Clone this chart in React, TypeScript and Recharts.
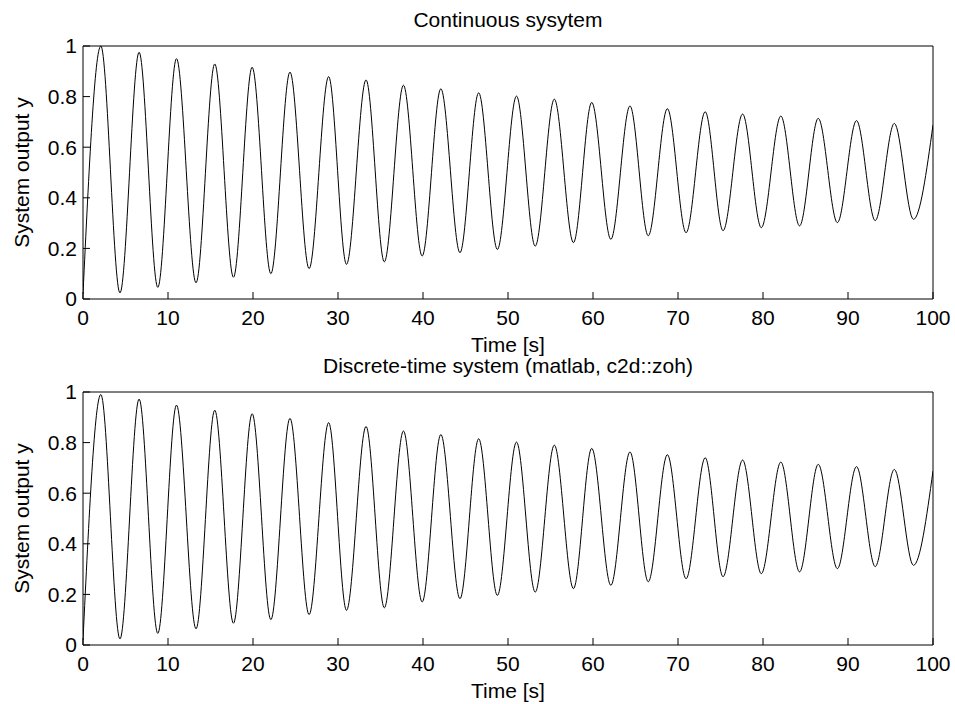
import React from 'react';
import { LineChart, Line, XAxis, YAxis } from 'recharts';

// peaks / troughs (time in s)
const timeS = [0, 2.1, 4.35, 6.6, 8.8, 11.0, 13.3, 15.5, 17.7, 19.9, 22.1, 24.35, 26.6, 28.9, 31.0, 33.3, 35.45, 37.7, 39.9, 42.1, 44.35, 46.55, 48.75, 51.0, 53.2, 55.45, 57.7, 59.85, 62.1, 64.35, 66.5, 68.75, 70.95, 73.2, 75.3, 77.6, 79.8, 82.1, 84.3, 86.5, 88.75, 91.0, 93.2, 95.45, 97.7, 100];
const continuousY = [0.02, 1.0, 0.024, 0.975, 0.046, 0.95, 0.064, 0.929, 0.086, 0.916, 0.1, 0.897, 0.12, 0.879, 0.137, 0.866, 0.147, 0.845, 0.17, 0.831, 0.183, 0.815, 0.196, 0.802, 0.209, 0.79, 0.223, 0.777, 0.236, 0.763, 0.25, 0.752, 0.262, 0.74, 0.27, 0.731, 0.282, 0.723, 0.289, 0.714, 0.302, 0.705, 0.31, 0.694, 0.315, 0.688];
const discreteY = [0.02, 0.99, 0.024, 0.972, 0.046, 0.948, 0.064, 0.928, 0.086, 0.914, 0.1, 0.896, 0.12, 0.879, 0.137, 0.864, 0.147, 0.846, 0.17, 0.832, 0.183, 0.815, 0.196, 0.802, 0.209, 0.79, 0.223, 0.777, 0.236, 0.763, 0.25, 0.752, 0.262, 0.74, 0.27, 0.731, 0.282, 0.723, 0.289, 0.714, 0.302, 0.705, 0.31, 0.694, 0.315, 0.688];
const xTicks = [0, 10, 20, 30, 40, 50, 60, 70, 80, 90, 100];
const yTicks = [0, 0.2, 0.4, 0.6, 0.8, 1];

const FONT = '"Liberation Sans", Arial, Helvetica, sans-serif';
const tickStyle = { fill: '#000', fontSize: 21, fontFamily: FONT };
const labelStyle = { fill: '#000', fontSize: 21, fontFamily: FONT };

const Panel = ({ title, values, top }: { title: string; values: number[]; top: number }) => {
  const data = timeS.map((t, i) => ({ t, y: values[i] }));
  return <div style={{ position: 'absolute', left: 0, top, width: 955, height: 362 }}>
      <LineChart width={955} height={362} data={data} margin={{
      top: 45,
      right: 21,
      bottom: 33,
      left: 0
    }}>
        <XAxis dataKey="t" type="number" domain={[0, 100]} ticks={xTicks} allowDataOverflow
          stroke="#000" tickSize={-7} tickMargin={18} tick={tickStyle} height={30}
          label={{ value: 'Time [s]', position: 'bottom', offset: 8, style: labelStyle }} />
        <XAxis xAxisId="top" orientation="top" dataKey="t" type="number" domain={[0, 100]} ticks={xTicks}
          stroke="#000" tickSize={-7} tick={false} height={1}
          label={{ value: title, position: 'top', offset: 18, style: labelStyle }} />
        <YAxis type="number" domain={[0, 1]} ticks={yTicks} stroke="#000" tickSize={-7} tickMargin={13}
          tick={tickStyle} width={83}
          label={{ value: 'System output y', angle: -90, position: 'insideLeft', offset: 22, style: { ...labelStyle, textAnchor: 'middle' } }} />
        <YAxis yAxisId="right" orientation="right" type="number" domain={[0, 1]} ticks={yTicks}
          stroke="#000" tickSize={-7} tick={false} width={1} />
        <Line type="monotone" dataKey="y" stroke="#000" strokeWidth={1} dot={false} isAnimationActive={false} />
      </LineChart>
    </div>;
};

const App = () => {
  return <div style={{ position: 'absolute', left: 0, top: 0, width: 955, height: 704, overflow: 'hidden', background: '#fff' }}>
      <Panel title="Continuous sysytem" values={continuousY} top={0} />
      <Panel title="Discrete-time system (matlab, c2d::zoh)" values={discreteY} top={346} />
    </div>;
};

export default App;
